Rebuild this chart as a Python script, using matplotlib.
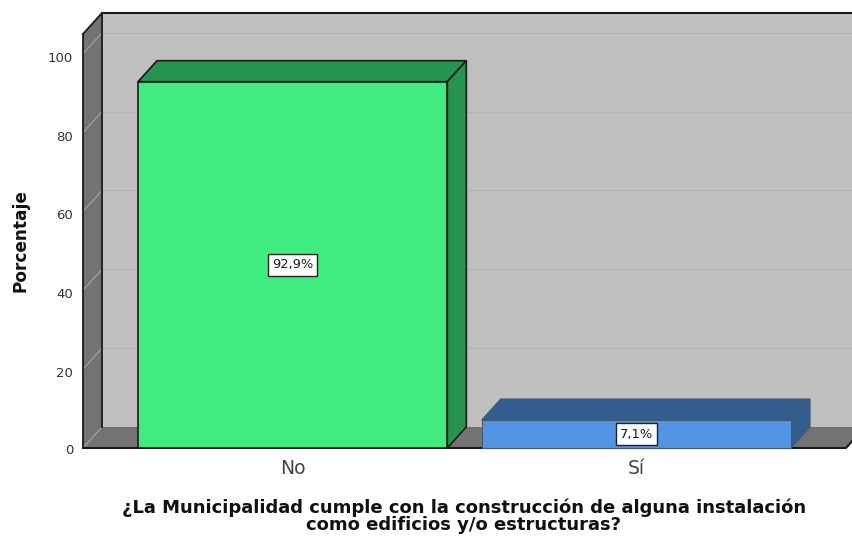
import matplotlib

matplotlib.use('Agg')
import matplotlib.pyplot as plt
from matplotlib.patches import Polygon
from matplotlib.transforms import ScaledTranslation

plt.rcParams['font.family'] = ['DejaVu Sans']

categories = ['No', 'Sí']
percent = [92.9, 7.1]
percent_labels = ['92,9%', '7,1%']
yticks = [0, 20, 40, 60, 80, 100]
xlabel = '¿La Municipalidad cumple con la construcción de alguna instalación\ncomo edificios y/o estructuras?'
ylabel = 'Porcentaje'

W, H = 852, 537
# front plane of the 3d box, pixels
left, right, top, bottom = 83, 846, 34, 448
dx = 19 / 343.5  # depth in data units
dy = 21 / 3.94
bar_w = 0.9
ymax = 105

fig = plt.figure(figsize=(W / 100, H / 100), dpi=100)
ax = fig.add_axes([left / W, 1 - bottom / H, (right - left) / W, (bottom - top) / H])
ax.set_xlim(-0.61, 1.61)
ax.set_ylim(0, ymax)
ax.set_facecolor('none')
for s in ax.spines.values():
    s.set_visible(False)

x0, x1 = ax.get_xlim()
EDGE = '#1a1a1a'


def poly(points, color, z, lw=1.2, ec=EDGE):
    ax.add_patch(Polygon(points, closed=True, fc=color, ec=ec, lw=lw, zorder=z,
                         clip_on=False, joinstyle='miter'))


# walls and floor
poly([(x0 + dx, dy), (x1 + dx, dy), (x1 + dx, ymax + dy), (x0 + dx, ymax + dy)], '#bfbfbf', 1, lw=0)
poly([(x0, 0), (x0 + dx, dy), (x0 + dx, ymax + dy), (x0, ymax)], '#737373', 1.2, lw=0)
poly([(x0, 0), (x1, 0), (x1 + dx, dy), (x0 + dx, dy)], '#737373', 1.2, lw=0)

# gridlines, back wall and left wall
for t in yticks[1:]:
    ax.plot([x0 + dx, x1 + dx], [t + dy, t + dy], color='#b3b3b3', lw=1, zorder=1.5, clip_on=False)
for t in yticks:
    ax.plot([x0, x0 + dx], [t, t + dy], color='#a0a0a0', lw=0.9, zorder=1.5, clip_on=False)

# box outline
ax.plot([x0 + dx, x1 + dx], [ymax + dy, ymax + dy], color=EDGE, lw=1.5, zorder=2, clip_on=False)
ax.plot([x0 + dx, x0 + dx], [dy, ymax + dy], color=EDGE, lw=1.3, zorder=2, clip_on=False)
ax.plot([x0, x0 + dx], [ymax, ymax + dy], color=EDGE, lw=1.3, zorder=2, clip_on=False)
ax.plot([x0, x0], [0, ymax], color=EDGE, lw=1.3, zorder=2, clip_on=False)
ax.plot([x0, x1, x1 + dx], [0, 0, dy], color=EDGE, lw=1.5, zorder=2, clip_on=False)

# bars
front_colors = ['#40eb80', '#5394e5']
dark_colors = ['#279350', '#335c8f']
edge_colors = [EDGE, '#46586e']
bar_lw = [1.2, 0.8]
for i, v in enumerate(percent):
    a, b = i - bar_w / 2, i + bar_w / 2
    ec = edge_colors[i]
    poly([(a, v), (b, v), (b + dx, v + dy), (a + dx, v + dy)], dark_colors[i], 3, lw=bar_lw[i], ec=ec)
    poly([(b, 0), (b + dx, dy), (b + dx, v + dy), (b, v)], dark_colors[i], 3, lw=bar_lw[i], ec=ec)
    ax.bar(i, v, width=bar_w, color=front_colors[i], edgecolor=ec, linewidth=bar_lw[i], zorder=4, clip_on=False)
    ax.text(i, v / 2, percent_labels[i], ha='center', va='center', fontsize=9.4, color='#1a1a1a', zorder=5,
            bbox=dict(boxstyle='square,pad=0.32', fc='white', ec='#222222', lw=1))

ax.set_xticks(range(len(categories)))
ax.set_xticklabels(categories, fontsize=13.5, color='#444444')
ax.set_yticks(yticks)
ax.tick_params(axis='y', length=0, pad=7, labelsize=9.5, labelcolor='#333333')
ax.tick_params(axis='x', length=0, pad=8)

# value labels sit a little under their ticks
for t, lbl in zip(yticks, ax.get_yticklabels()):
    shift = 1 if t == 0 else 3
    lbl.set_transform(lbl.get_transform() + ScaledTranslation(0, -shift / 100, fig.dpi_scale_trans))

fig.text(464 / W, 1 - 516.5 / H, xlabel, ha='center', va='center', fontsize=13, fontweight='bold',
         linespacing=0.95, color='#111111')
fig.text(21 / W, 1 - 241 / H, ylabel, rotation=90, ha='center', va='center', fontsize=12.2, fontweight='bold',
         color='#111111')

fig.savefig('out.png', dpi=100)
